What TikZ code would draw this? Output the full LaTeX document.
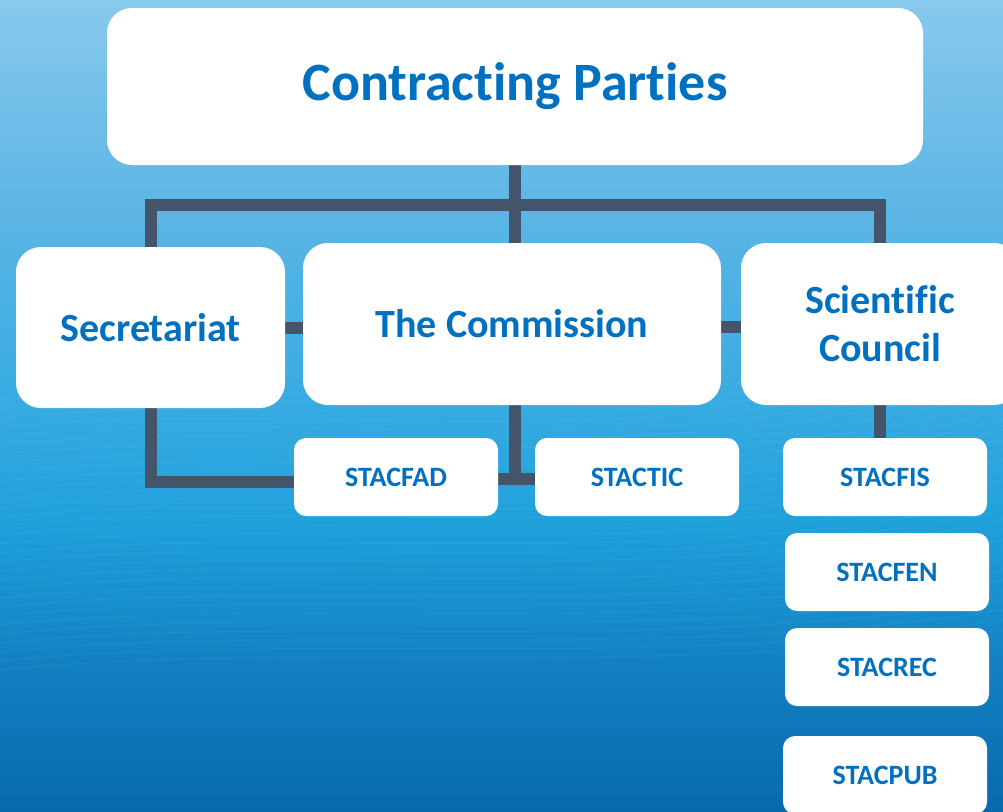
\documentclass[tikz,border=0pt]{standalone}
\usepackage{fontspec}
\setmainfont{Carlito}[Ligatures={NoCommon}]
\usetikzlibrary{calc}
\definecolor{txtblue}{HTML}{0070C0}
\definecolor{connc}{HTML}{44546A}
\definecolor{bgA}{RGB}{136,201,237}
\definecolor{bgB}{RGB}{94,182,229}
\definecolor{bgC}{RGB}{56,171,226}
\definecolor{bgD}{RGB}{30,160,218}
\definecolor{bgE}{RGB}{18,128,194}
\definecolor{bgF}{RGB}{8,106,172}
\pgfdeclareverticalshading{bgshade}{100bp}{
  color(0bp)=(bgF); color(25bp)=(bgF); color(34bp)=(bgE); color(42.5bp)=(bgD);
  color(50.5bp)=(bgC); color(62.5bp)=(bgB); color(75bp)=(bgA); color(100bp)=(bgA)}
\pgfdeclarelayer{bglayer}
\pgfdeclarelayer{linelayer}
\pgfsetlayers{bglayer,linelayer,main}
\tikzset{
  bigbox/.style={draw=none, fill=white, rounded corners=25pt, inner sep=0pt,
    align=center, text=txtblue, font=\bfseries\fontsize{40}{48}\selectfont},
  smallbox/.style={draw=none, fill=white, rounded corners=12pt, inner sep=0pt,
    minimum width=204pt, minimum height=78pt, text=txtblue,
    font=\bfseries\fontsize{28}{32}\selectfont},
  conn/.style={draw=connc, line width=12pt, line join=miter},
}
\begin{document}
\begin{tikzpicture}[x=1pt,y=-1pt]
\useasboundingbox (0,0) rectangle (1003,811);
\clip (0,0) rectangle (1003,811);
\begin{pgfonlayer}{bglayer}
  \shade[shading=bgshade] (0,0) rectangle (1003,811);
  \foreach \i in {0,...,30}{
    \draw[white, opacity=0.05, line width=1.2pt]
      (0,{400+\i*9}) .. controls (300,{370+\i*9}) and (650,{440+\i*8}) .. (1003,{330+\i*10});
  }
\end{pgfonlayer}

\node[bigbox, minimum width=816pt, minimum height=157pt,
  font=\bfseries\fontsize{54}{60}\selectfont] (cp) at (515,86.5) {\raisebox{-3pt}{Contracting Parties}};
\node[bigbox, minimum width=269pt, minimum height=161pt] (sec) at (150.5,327.5) {Secretariat};
\node[bigbox, minimum width=418pt, minimum height=162pt] (com) at (512,324) {The Commission};
\node[bigbox, minimum width=278pt, minimum height=162pt] (sci) at (880,324) {Scientific\\Council};
\node[smallbox] (fad) at (396,477) {STACFAD};
\node[smallbox] (tac) at (637,477) {STACTIC};
\node[smallbox] (fis) at (885,477) {STACFIS};
\node[smallbox] (fen) at (887,572) {STACFEN};
\node[smallbox] (rec) at (887,667) {STACREC};
\node[smallbox] (pub) at (885,775) {STACPUB};

\coordinate (bar) at (515,204.5);
\begin{pgfonlayer}{linelayer}
  \draw[conn] (cp.south) -- (cp.south |- com.north);
  \draw[conn] (sec.north) |- (bar) -| (sci.north);
  \draw[conn] (sec.east) -- (sec.east -| com.west);
  \draw[conn] ([yshift=-3pt]com.east) -- ([yshift=-3pt]com.east -| sci.west);
  \draw[conn] (sec.south) |- ([yshift=-5pt]fad.west);
  \draw[conn] (cp.south |- com.south) |- ([yshift=-2pt]fad.east);
  \draw[conn] ([yshift=-2pt]fad.east) -- ([yshift=-2pt]tac.west);
  \draw[conn] (sci.south) -- (sci.south |- fis.north);
\end{pgfonlayer}
\end{tikzpicture}
\end{document}
